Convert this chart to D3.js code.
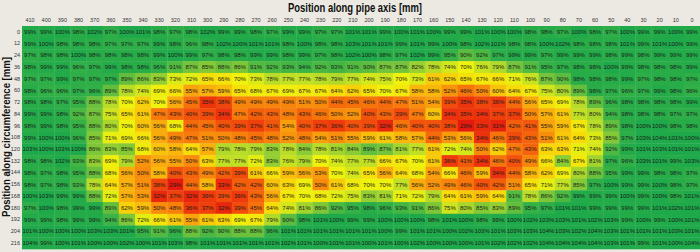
<!DOCTYPE html>
<html>
<head>
<meta charset="utf-8">
<script src="https://cdn.jsdelivr.net/npm/d3@7"></script>
<style>
  body { margin: 0; background: #ece9e2; }
  svg { display: block; }
</style>
</head>
<body>
<div id="chart"></div>
<script>
// positions along pipe axis [mm]
var axial = [410, 400, 390, 380, 370, 360, 350, 340, 330, 320, 310, 300, 290, 280, 270, 260, 250, 240, 230, 220, 210,
    200, 190, 180, 170, 160, 150, 140, 130, 120, 110, 100, 90, 80, 70, 60, 50, 40, 30, 20, 10, 0];

// positions along circumference [mm]
var circ = [0, 12, 24, 36, 48, 60, 72, 84, 96, 108, 120, 132, 144, 156, 168, 180, 192, 204, 216];

// one row per circumferential position, percent values left to right
var row0 = [99,99,100,98,102,97,100,101,98,97,98,102,99, 99,98,97,99,99,97,97,101,101,99,100,101,100,99,99, 101,100,100,98,98,97,100,98,97,100,99,99,100,99];
var row12 = [99,100,98,98,98,97,97,97,99,98,96,98,102, 100,101,101,98,100,98,98,103,101,101,99,101,99,100,98, 102,101,98,98,100,102,98,98,98,101,99,101,100,99];
var row24 = [97,98,98,100,98,98,98,98,99,100,99,97,98, 98,99,99,98,99,97,98,102,100,98,97,102,99,95,90, 92,97,99,99,97,99,99,99,98,99,98,99,99,99];
var row36 = [98,99,99,96,97,99,98,98,96,91,87,85,88, 86,91,92,93,94,92,93,91,90,87,87,82,78,74,70, 76,79,87,91,95,97,98,98,100,99,98,98,98,99];
var row48 = [97,97,99,97,97,97,89,86,83,73,72,65,66, 70,73,78,77,77,78,79,77,74,75,70,73,61,62,65, 67,66,71,76,87,90,98,98,98,99,97,98,98,97];
var row60 = [98,96,96,97,96,89,78,74,69,66,55,57,59, 65,68,67,69,67,67,64,62,65,70,67,58,58,52,46, 50,60,64,67,75,80,89,98,97,96,97,99,98,96];
var row72 = [98,98,97,95,88,78,70,62,70,56,45,35,38, 49,49,49,49,51,50,44,45,46,44,47,51,54,39,35, 38,36,44,56,65,69,78,89,96,98,98,98,98,99];
var row84 = [99,99,98,92,87,75,65,61,47,43,40,39,34, 47,42,43,48,43,46,50,52,40,43,39,47,60,34,35, 34,37,37,50,57,61,77,80,94,98,98,98,97,97];
var row96 = [98,99,98,95,88,80,70,60,56,68,44,45,40, 39,37,41,54,40,37,36,40,39,32,46,40,40,38,29, 33,31,42,41,55,59,67,78,89,98,100,100,98,98];
var row108 = [99,100,100,96,85,71,69,66,56,49,47,51,50, 48,45,48,52,48,54,51,55,59,61,58,57,44,53,56, 34,46,39,43,51,61,64,73,85,97,103,104,101,100];
var row120 = [103,100,103,100,86,83,85,68,60,58,64,57,79, 78,79,83,78,84,78,81,84,89,87,81,77,61,72,74, 50,62,47,43,63,63,71,74,92,99,101,103,101,101];
var row132 = [98,98,102,93,83,69,79,52,56,55,50,63,77, 77,72,83,76,79,70,74,77,77,66,67,70,61,36,41, 34,46,40,49,66,84,67,81,97,96,103,101,99,103];
var row144 = [98,97,98,95,88,68,56,50,58,40,43,49,42, 39,61,66,59,56,53,70,74,65,56,64,68,54,66,46, 59,34,44,58,62,69,80,88,95,99,99,98,98,97];
var row156 = [98,97,98,93,78,64,57,51,38,29,44,58,33, 42,42,60,63,69,50,61,68,70,70,77,56,52,49,46, 40,42,51,65,71,77,85,97,100,99,99,100,98,97];
var row168 = [100,103,99,99,88,72,57,53,32,37,32,36,39, 36,43,56,67,70,68,72,75,83,81,71,72,79,64,61, 59,64,91,78,86,92,99,99,99,100,99,100,98,101];
var row180 = [97,100,98,99,99,89,62,59,50,48,36,37,32, 39,45,64,74,81,86,92,95,98,96,93,91,86,75,80, 85,83,89,95,97,101,101,99,99,99,99,101,102,101];
var row192 = [99,99,98,99,99,94,86,72,66,61,55,61,63, 69,67,79,90,98,101,100,99,99,100,100,100,98,101,100, 98,99,100,102,103,103,101,102,103,99,100,99,100,101];
var row204 = [101,100,100,100,103,103,101,95,91,96,88,92,90, 88,88,96,101,101,101,101,101,101,100,99,101,101,100,102, 103,101,103,103,104,103,102,104,103,101,101,101,103,101];
var row216 = [104,99,100,101,100,100,102,100,101,103,98,101,101, 101,101,101,102,101,100,101,101,100,101,100,102,100,100,100, 101,102,102,102,104,104,104,104,103,101,99,101,100,104];

var rows = [row0, row12, row24, row36, row48, row60, row72, row84, row96, row108,
    row120, row132, row144, row156, row168, row180, row192, row204, row216];

var W = 700, H = 252;
var margin = {top: 26, right: 0, bottom: 3, left: 22};

var svg = d3.select("#chart")
  .append("svg")
    .attr("width", W)
    .attr("height", H)
    .style("font-family", "'Liberation Sans', Arial, sans-serif");

var g = svg.append("g")
    .attr("transform", "translate(" + margin.left + "," + margin.top + ")");

var width = W - margin.left - margin.right,
    height = H - margin.top - margin.bottom;

var x = d3.scaleBand().domain(axial).range([0, width]);
var y = d3.scaleBand().domain(circ).range([0, height]);

// green near 100 %, yellow around 68 %, red near 30 %
var color = d3.scaleLinear()
    .domain([29, 36, 45, 55, 64, 70, 78, 87, 94, 100])
    .range(["#e41a0e", "#ee3a0c", "#f6700b", "#f9a40c", "#f8dc0a", "#eef20c", "#b9dc28", "#74c33a", "#3bb345", "#1ea94a"])
    .clamp(true);

// cells
var cells = [];
rows.forEach(function(r, i) {
  r.forEach(function(v, j) {
    cells.push({c: circ[i], a: axial[j], value: v});
  });
});

g.selectAll("rect.cell")
  .data(cells)
  .enter()
  .append("rect")
    .attr("class", "cell")
    .attr("x", function(d) { return x(d.a); })
    .attr("y", function(d) { return y(d.c); })
    .attr("width", x.bandwidth() + 0.3)
    .attr("height", y.bandwidth() + 0.3)
    .attr("fill", function(d) { return color(d.value); });

g.selectAll("text.val")
  .data(cells)
  .enter()
  .append("text")
    .attr("class", "val")
    .attr("x", function(d) { return x(d.a) + x.bandwidth() / 2; })
    .attr("y", function(d) { return y(d.c) + y.bandwidth() / 2; })
    .attr("dy", "0.35em")
    .attr("text-anchor", "middle")
    .style("font-size", "6px")
    .style("fill", "#1a1a1a")
    .text(function(d) { return d.value + "%"; });

// column axis
var xAxis = g.append("g")
    .attr("transform", "translate(0,-4)")
    .call(d3.axisTop(x).tickSize(0).tickPadding(0));
xAxis.select(".domain").remove();
xAxis.selectAll("text").style("font-size", "5.5px").style("fill", "#333");

// row axis
var yAxis = g.append("g")
    .attr("transform", "translate(-2,0)")
    .call(d3.axisLeft(y).tickSize(0).tickPadding(0));
yAxis.select(".domain").remove();
yAxis.selectAll("text").style("font-size", "5.5px").style("fill", "#333");

// titles (the original font is narrow, so squeeze to the same width)
svg.append("text")
    .attr("x", 288)
    .attr("y", 12)
    .attr("textLength", 134)
    .attr("lengthAdjust", "spacingAndGlyphs")
    .style("font-size", "12px")
    .style("font-weight", "bold")
    .style("fill", "#111")
    .text("Position along pipe axis [mm]");

svg.append("text")
    .attr("transform", "translate(10,217) rotate(-90)")
    .attr("textLength", 160)
    .attr("lengthAdjust", "spacingAndGlyphs")
    .style("font-size", "11px")
    .style("font-weight", "bold")
    .style("fill", "#111")
    .text("Position along circumference [mm]");
</script>
</body>
</html>
